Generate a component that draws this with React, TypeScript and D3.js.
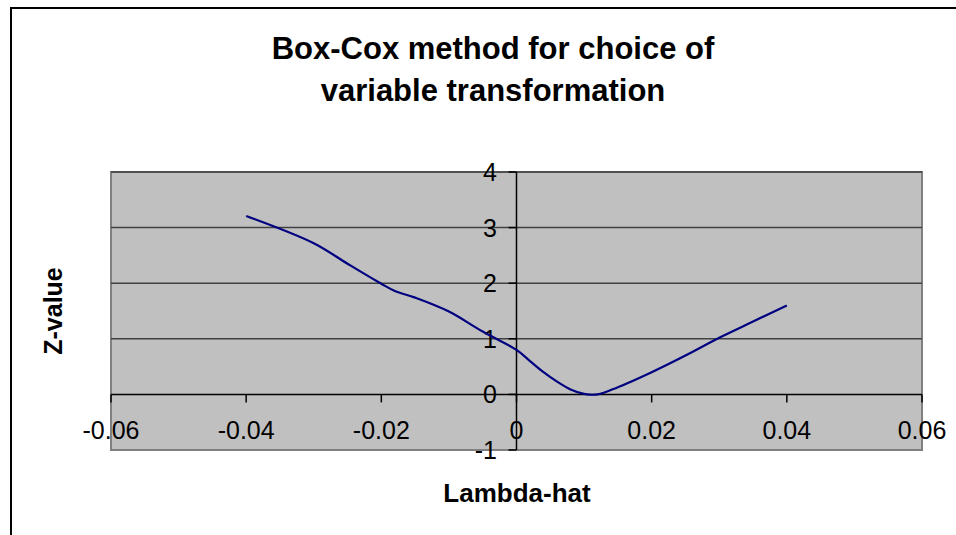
import React from "react";
import * as d3 from "d3";

const lambdaValues = [-0.04, -0.03, -0.025, -0.02, -0.018, -0.015, -0.01, -0.005, 0, 0.002, 0.004, 0.006, 0.008, 0.01, 0.012, 0.015, 0.02, 0.025, 0.03, 0.035, 0.04];
const zValues = [3.21, 2.72, 2.35, 1.99, 1.86, 1.74, 1.49, 1.13, 0.8, 0.6, 0.4, 0.23, 0.09, 0.01, 0.0, 0.13, 0.4, 0.7, 1.02, 1.31, 1.6];
const xTicks = [-0.06, -0.04, -0.02, 0, 0.02, 0.04, 0.06];
const yTicks = [-1, 0, 1, 2, 3, 4];
const titleLines = ["Box-Cox method for choice of", "variable transformation"];

export default function App() {
  const W = 956, H = 535;
  const left = 111, right = 922, top = 172, bottom = 450;
  const x = d3.scaleLinear().domain([-0.06, 0.06]).range([left, right]);
  const y = d3.scaleLinear().domain([-1, 4]).range([bottom, top]);
  const x0 = x(0), y0 = y(0);
  const pts = lambdaValues.map((l, i) => [l, zValues[i]] as [number, number]);
  const line = d3.line<[number, number]>().x(d => x(d[0])).y(d => y(d[1])).curve(d3.curveCatmullRom.alpha(0.5));
  const font = "Arial, 'Liberation Sans', sans-serif";
  return (
    <svg width={W} height={H} style={{ position: "absolute", left: 0, top: 0, background: "#fff" }} fontFamily={font}>
      <rect x={11} y={8} width={1000} height={1000} fill="#fff" stroke="#000" strokeWidth={2} />
      {titleLines.map((t, i) => (
        <text key={i} x={493} y={59 + i * 42} textAnchor="middle" fontSize={31} fontWeight="bold" fill="#000">{t}</text>
      ))}
      <rect x={left} y={top} width={right - left} height={bottom - top} fill="#c0c0c0" stroke="#808080" strokeWidth={2} />
      {yTicks.filter(t => t > 0).map(t => (
        <line key={t} x1={left} x2={right} y1={y(t)} y2={y(t)} stroke="#404040" strokeWidth={1.5} />
      ))}
      <line x1={x0} x2={x0} y1={top} y2={bottom} stroke="#000" strokeWidth={1.5} />
      <line x1={left} x2={right} y1={y0} y2={y0} stroke="#000" strokeWidth={1.5} />
      {yTicks.map(t => (
        <g key={t}>
          <line x1={x0 - 8} x2={x0} y1={y(t)} y2={y(t)} stroke="#000" strokeWidth={1.5} />
          <text x={497} y={y(t)} dy="0.36em" textAnchor="end" fontSize={25} fill="#000">{t}</text>
        </g>
      ))}
      {xTicks.map(t => (
        <g key={t}>
          <line x1={x(t)} x2={x(t)} y1={y0} y2={y0 + 8} stroke="#000" strokeWidth={1.5} />
          <text x={x(t)} y={439} textAnchor="middle" fontSize={25} fill="#000">{t === 0 ? "0" : String(t)}</text>
        </g>
      ))}
      <path d={line(pts) || ""} fill="none" stroke="#000080" strokeWidth={2.2} />
      <text x={517} y={502} textAnchor="middle" fontSize={26} fontWeight="bold" fill="#000">Lambda-hat</text>
      <text transform={`translate(62,311) rotate(-90)`} textAnchor="middle" fontSize={25} fontWeight="bold" fill="#000">Z-value</text>
    </svg>
  );
}
